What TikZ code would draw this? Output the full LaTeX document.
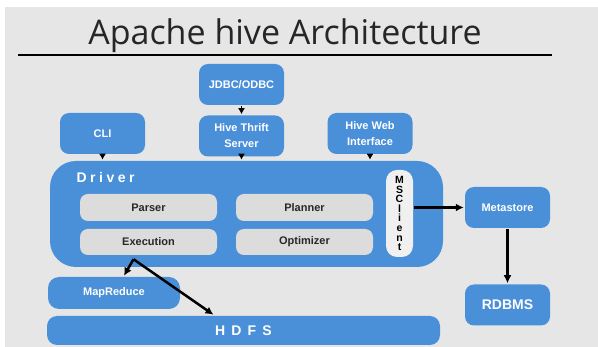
\documentclass[tikz,border=0pt]{standalone}
\usepackage{fontspec}
\setmainfont{Liberation Sans}
\newfontfamily\titlefont{Open Sans}
\usetikzlibrary{arrows.meta, positioning}
\definecolor{hiveblue}{RGB}{74,144,217}
\definecolor{pagegray}{RGB}{230,230,230}
\definecolor{partgray}{RGB}{220,220,220}
\definecolor{partink}{RGB}{40,40,40}
\tikzstyle{block}=[fill=hiveblue,rectangle,rounded corners=9pt,text=white,align=center,inner sep=0pt,minimum width=85pt,minimum height=41pt,font=\bfseries\fontsize{11}{16}\selectfont]
\tikzstyle{part}=[fill=partgray,rectangle,rounded corners=8pt,text=partink,inner sep=0pt,minimum width=137pt,minimum height=27pt,font=\bfseries\fontsize{11}{13}\selectfont]
\tikzstyle{feed}=[->,line width=1.6pt,>={Latex[length=6pt,width=7pt]}]
\newcommand{\spaced}[2]{{\addfontfeature{LetterSpace=#1}#2}}

\begin{document}
\begin{tikzpicture}[x=1pt,y=-1pt,>={Latex[length=8pt,width=8pt]},line width=2.5pt]
    \path[fill=white] (0,0) rectangle (598,347);
    \fill[pagegray] (5,7) rectangle (598,347);
    % title
    \node[anchor=base, font=\titlefont\fontsize{34}{40}\selectfont, text=black!85] (title) at (285,45) {Apache hive Architecture};
    \draw[line width=2.8pt] (18,55) -- (552,55);
    % clients
    \node[block] (jdbc) at (241.5,84.5) {JDBC/ODBC};
    \node[block, below=8pt of jdbc] (thrift) {Hive Thrift\\Server};
    \node[block] (cli) at (102.5,133.5) {CLI};
    \node[block] (web) at (370,133.5) {Hive Web\\Interface};
    % driver
    \node[fill=hiveblue, rectangle, rounded corners=26pt, minimum width=393pt, minimum height=106pt] (driver) at (246.5,214) {};
    \node[anchor=base west, text=white, font=\bfseries\fontsize{14}{16}\selectfont] (drvlabel) at (72,183) {\spaced{25}{Driver}};
    \node[part] (parser) at (148.5,207.5) {Parser};
    \node[part, minimum height=26pt] (execution) at (148.5,242) {Execution};
    \node[part] (planner) at (304.5,207.5) {Planner};
    \node[part, minimum height=26pt] (optimizer) at (304.5,242) {Optimizer};
    \node[part, fill=black!6, text=black, minimum width=27pt, minimum height=87pt, rounded corners=11pt, align=center, font=\bfseries\fontsize{10.5}{9.6}\selectfont] (msclient) at (399.5,213.5) {M\\S\\C\\l\\i\\e\\n\\t};
    % metastore
    \node[block] (metastore) at (507.5,207.5) {Metastore};
    \node[block, below=54pt of metastore, font=\bfseries\fontsize{14}{16}\selectfont] (rdbms) {RDBMS};
    % storage
    \node[block, minimum width=132pt, minimum height=32pt, rounded corners=11pt] (mapreduce) at (114,293) {MapReduce};
    \node[block, minimum width=393pt, minimum height=29pt, rounded corners=10pt, font=\bfseries\fontsize{14}{16}\selectfont] (hdfs) at (243.5,330.5) {\spaced{44}{HDFS}};
    \coordinate (fork) at ([xshift=-15pt,yshift=-3pt]execution.south);
    % arrows
    \draw[feed] (jdbc) -- (thrift);
    \draw[feed] (cli.south) -- (cli.south |- driver.north);
    \draw[feed] (thrift.south) -- (thrift.south |- driver.north);
    \draw[feed] (web.south) -- (web.south |- driver.north);
    \draw[->] (msclient.east |- metastore.west) -- (metastore.west);
    \draw[->] (metastore) -- (rdbms);
    \draw[->] (fork) -- ([xshift=10pt]mapreduce.north);
    \draw[->] (fork) -- ([xshift=-30pt]hdfs.north);
\end{tikzpicture}
\end{document}
